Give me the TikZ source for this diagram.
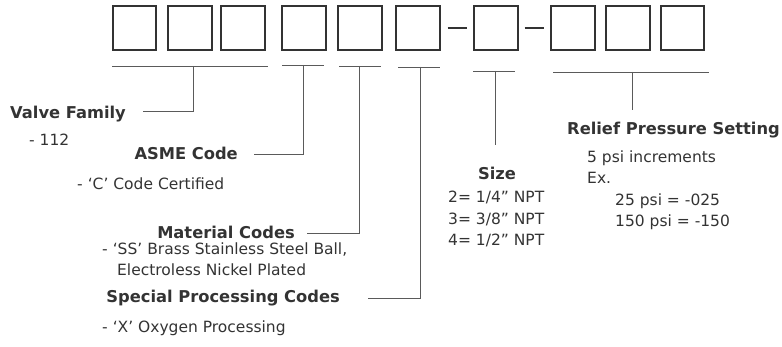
\documentclass[tikz,border=0pt]{standalone}
\usepackage{fontspec}
\setmainfont{DejaVu Sans}
\usepackage{tikz}
\definecolor{ink}{HTML}{333333}
\definecolor{rule}{HTML}{5A5A5A}

\begin{document}
\begin{tikzpicture}[x=1pt, y=-1pt,
        digit/.style={draw=ink, line width=1.6pt, minimum width=43.5pt, minimum height=43.5pt, inner sep=0pt},
        bracket/.style={draw=rule, line width=0.9pt},
        lead/.style={draw=rule, line width=0.9pt},
        sep/.style={draw=ink, line width=1.5pt},
        title/.style={inner sep=0pt, text=ink, font=\fontsize{16.3}{20}\selectfont\bfseries},
        body/.style={inner sep=0pt, text=ink, align=left, font=\fontsize{15.5}{21.5}\selectfont}
    ]
        \useasboundingbox (0,0) rectangle (782,347);

        % part number boxes
        \node[digit] (b1) at (134.5,28) {};
        \node[digit] (b2) at (190,28) {};
        \node[digit] (b3) at (243,28) {};
        \node[digit] (b4) at (304,28) {};
        \node[digit] (b5) at (360,28) {};
        \node[digit] (b6) at (418,28) {};
        \node[digit] (b7) at (496,28) {};
        \node[digit] (b8) at (573,28) {};
        \node[digit] (b9) at (628,28) {};
        \node[digit] (b10) at (682.5,28) {};
        \draw[sep, shorten <=7pt, shorten >=6pt] (b6.east) -- (b7.west);
        \draw[sep, shorten <=6pt, shorten >=6pt] (b7.east) -- (b8.west);

        % brackets under the boxes
        \coordinate (famL) at (112,66);  \coordinate (famR) at (268,66);  \coordinate (famTap) at (193,66);
        \coordinate (asmeL) at (282,65); \coordinate (asmeR) at (324,65); \coordinate (asmeTap) at (303,65);
        \coordinate (matL) at (339,66);  \coordinate (matR) at (381,66);  \coordinate (matTap) at (359,66);
        \coordinate (spcL) at (398,67);  \coordinate (spcR) at (440,67);  \coordinate (spcTap) at (420,67);
        \coordinate (sizeL) at (473,71); \coordinate (sizeR) at (515,71); \coordinate (sizeTap) at (495,71);
        \coordinate (relL) at (553,72);  \coordinate (relR) at (709,72);  \coordinate (relTap) at (632,72);
        \draw[bracket] (famL) -- (famR);
        \draw[bracket] (asmeL) -- (asmeR);
        \draw[bracket] (matL) -- (matR);
        \draw[bracket] (spcL) -- (spcR);
        \draw[bracket] (sizeL) -- (sizeR);
        \draw[bracket] (relL) -- (relR);

        % labels (multi-line nodes sit on their last baseline)
        \node[title, anchor=base east] (famLbl) at (126,119) {Valve Family};
        \node[body, anchor=base west] (famTxt) at (29,146) {- 112};
        \node[title, anchor=base east] (asmeLbl) at (238,160) {ASME Code};
        \node[body, anchor=base west] (asmeTxt) at (77,190) {-\hspace{5pt}‘C’ Code Certified};
        \node[title, anchor=base east] (matLbl) at (295,239) {Material Codes};
        \node[body, anchor=base west] (matTxt) at (102,276) {-\hspace{5pt}‘SS’ Brass Stainless Steel Ball,\\\hspace*{15pt}Electroless Nickel Plated};
        \node[title, anchor=base east] (spcLbl) at (340,303) {Special Processing Codes};
        \node[body, anchor=base west] (spcTxt) at (102,333) {-\hspace{5pt}‘X’ Oxygen Processing};
        \node[title, anchor=base] (sizeLbl) at (497,180) {Size};
        \node[body, anchor=base west] (sizeTxt) at (448,246) {2= 1/4” NPT\\3= 3/8” NPT\\4= 1/2” NPT};
        \node[title, anchor=base west] (relLbl) at (567,135) {Relief Pressure Setting};
        \node[body, anchor=base west] (relTxt) at (587,227) {5 psi increments\\Ex.\\\hspace*{28pt}25 psi = -025\\\hspace*{28pt}150 psi = -150};

        % leaders
        \coordinate (famEnd) at (143,111);
        \coordinate (asmeEnd) at (254,154);
        \coordinate (matEnd) at (307,233);
        \coordinate (spcEnd) at (368,298);
        \coordinate (sizeEnd) at (495,145);
        \coordinate (relEnd) at (632,110);
        \draw[lead] (famTap) |- (famEnd);
        \draw[lead] (asmeTap) |- (asmeEnd);
        \draw[lead] (matTap) |- (matEnd);
        \draw[lead] (spcTap) |- (spcEnd);
        \draw[lead] (sizeTap) -- (sizeEnd);
        \draw[lead] (relTap) -- (relEnd);
    \end{tikzpicture}
\end{document}
